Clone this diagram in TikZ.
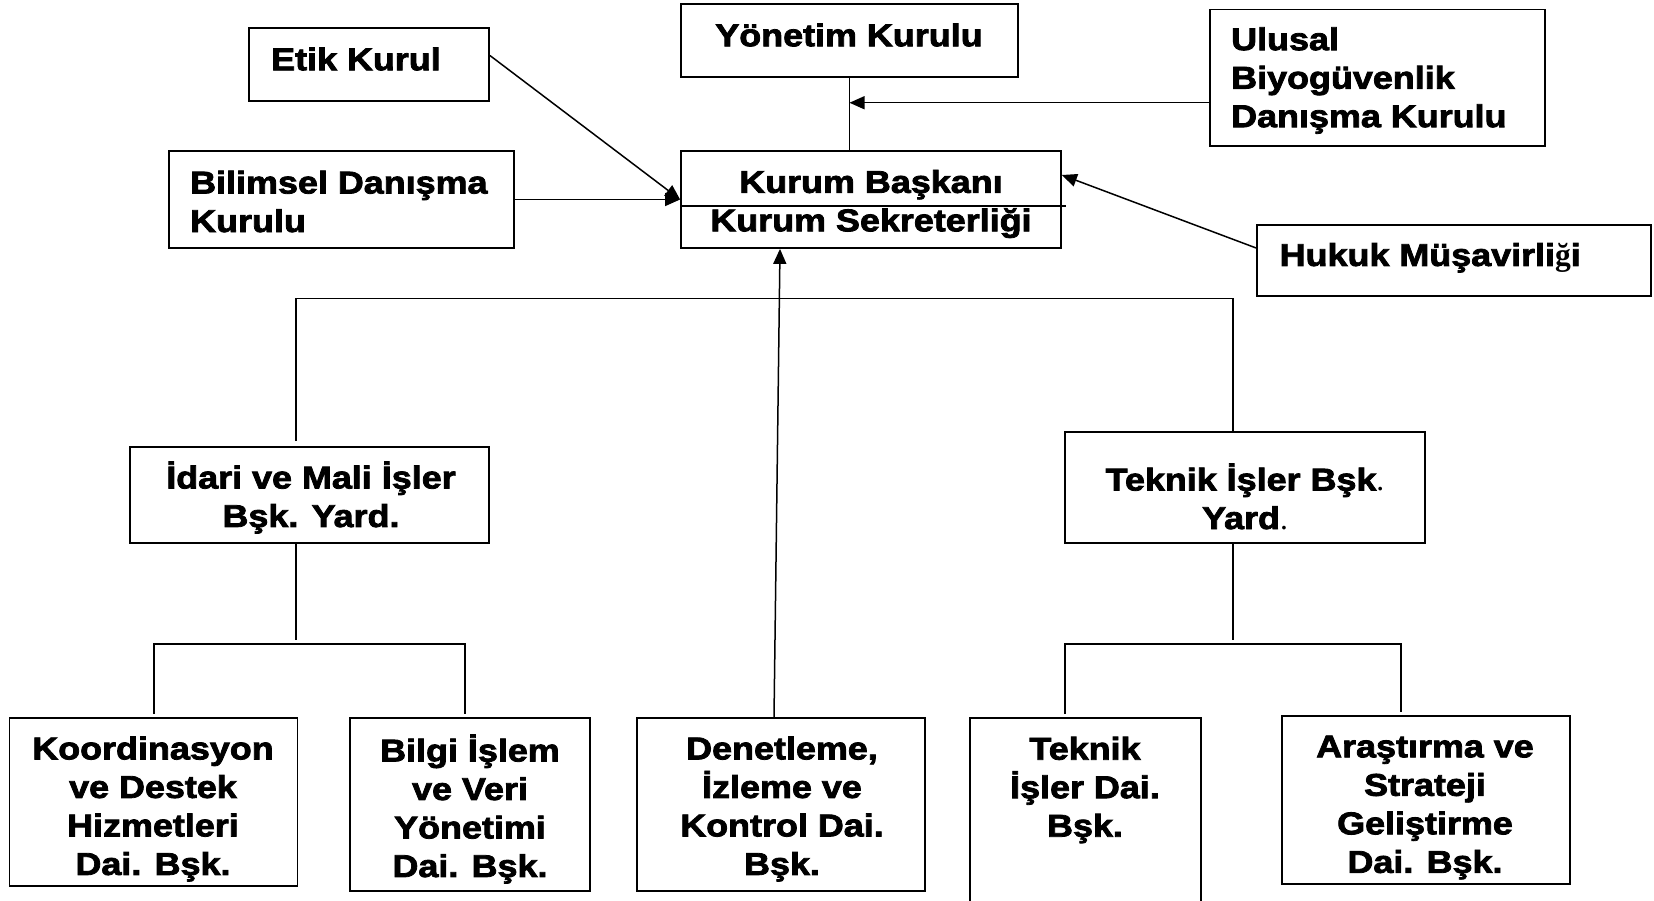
\documentclass[tikz,border=0pt]{standalone}
\usepackage{fontspec}
\usetikzlibrary{arrows.meta}
\newfontfamily\hv{Liberation Sans}[BoldFeatures={FakeStretch=1.14,FakeBold=2.5}]
\newfontfamily\serifg{Liberation Serif}
\tikzset{
  box/.style={draw,line width=1.8pt,inner sep=0pt},
  txt/.style={font=\hv\bfseries\fontsize{31.5}{38.5}\selectfont,inner sep=0pt},
  ln/.style={line width=1.5pt},
  arr/.style={line width=1.5pt,-{Triangle[length=15pt,width=13pt]}}
}
\begin{document}
\begin{tikzpicture}[x=1pt,y=-1pt]
\useasboundingbox (0,0) rectangle (1654,901);
\fill[white] (0,0) rectangle (1654,901);
% boxes
\node[box,minimum width=240pt,minimum height=73pt] (etik) at (369,64.5) {};
\node[box,minimum width=337pt,minimum height=73pt] (yon) at (849.5,40.5) {};
\node[box,minimum width=335pt,minimum height=136.5pt] (ulusal) at (1377.5,77.75) {};
\node[box,minimum width=345pt,minimum height=97pt] (bilimsel) at (341.5,199.5) {};
\node[box,minimum width=380pt,minimum height=97pt] (kurum) at (871,199.5) {};
\node[box,minimum width=394pt,minimum height=71pt] (hukuk) at (1454,260.5) {};
\node[box,minimum width=359pt,minimum height=96pt] (idari) at (309.5,495) {};
\node[box,minimum width=360pt,minimum height=111pt] (teknikY) at (1245,487.5) {};
\node[box,minimum width=288pt,minimum height=168pt] (koord) at (153.5,802) {};
\node[box,minimum width=240pt,minimum height=173pt] (bilgi) at (470,804.5) {};
\node[box,minimum width=288pt,minimum height=173pt] (denet) at (781,804.5) {};
\node[box,minimum width=231pt,minimum height=194pt] (teknikD) at (1085.5,815) {};
\node[box,minimum width=288pt,minimum height=168pt] (arastirma) at (1426,800) {};
% texts
\node[txt,anchor=west] (tEtik) at (271,59) {Etik Kurul};
\node[txt] (tYon) at (849,35) {Yönetim Kurulu};
\node[txt,anchor=west,align=left] (tUlusal) at (1231,80.5) {Ulusal\\Biyogüvenlik\\Danışma Kurulu};
\node[txt,anchor=west,align=left] (tBilimsel) at (190,201.5) {Bilimsel Danışma\\Kurulu};
\node[txt,align=center] (tKurum) at (871,204) {Kurum Başkanı\\Kurum Sekreterliği};
\node[txt,anchor=west] (tHukuk) at (1279.5,258) {Hukuk Müşavirli{\serifg\fontsize{31.5}{38.5}\selectfont ğ}i};
\node[txt,align=center] (tIdari) at (311,497.5) {İdari ve Mali İşler\\Bşk. Yard.};
\node[txt,align=center] (tTeknikY) at (1245,496.5) {Teknik İşler Bşk{\serifg\mdseries .}\\Yard{\serifg\mdseries .}};
\node[txt,align=center] (tKoord) at (153,809) {Koordinasyon\\ve Destek\\Hizmetleri\\Dai. Bşk.};
\node[txt,align=center] (tBilgi) at (470,809) {Bilgi İşlem\\ve Veri\\Yönetimi\\Dai. Bşk.};
\node[txt,align=center] (tDenet) at (782,809) {Denetleme,\\İzleme ve\\Kontrol Dai.\\Bşk.};
\node[txt,align=center] (tTeknikD) at (1085,790) {Teknik\\İşler Dai.\\Bşk.};
\node[txt,align=center] (tArastirma) at (1425,807.5) {Araştırma ve\\Strateji\\Geliştirme\\Dai. Bşk.};
% kurum divider
\draw[ln] ([yshift=-6.5pt]kurum.west) -- ([yshift=-6.5pt,xshift=4pt]kurum.east);
% top connectors
\draw[ln] (yon.south) -- (yon.south |- kurum.north);
\coordinate (uy) at ([yshift=-25pt]ulusal.west);
\draw[arr] (uy) -- (uy -| yon.south);
\draw[arr] ([yshift=9pt]etik.east) -- (kurum.west);
\draw[arr] (bilimsel.east) -- (kurum.west);
\draw[arr] ([yshift=12.5pt]hukuk.west) -- ([yshift=24.5pt]kurum.east);
\draw[arr] ([xshift=-7pt]denet.north) -- ([xshift=-91pt]kurum.south);
% main bus
\coordinate (b1) at (296,298.5);
\coordinate (b2) at (1233,298.5);
\draw[ln] ([yshift=5pt]idari.north -| b1) -- (b1) -- (b2) -- (teknikY.north -| b2);
% idari subtree
\coordinate (i1) at (296,644);
\draw[ln] (idari.south -| i1) -- ([yshift=4pt]i1);
\draw[ln] ([yshift=3pt]koord.north -| 154,0) -- (154,644) -- (465,644) -- ([yshift=3pt]bilgi.north -| 465,0);
% teknik subtree
\coordinate (t1) at (1233,644);
\draw[ln] (teknikY.south -| t1) -- ([yshift=4pt]t1);
\draw[ln] ([yshift=3pt]teknikD.north -| 1065,0) -- (1065,644) -- (1401,644) -- ([yshift=3pt]arastirma.north -| 1401,0);
\end{tikzpicture}
\end{document}
